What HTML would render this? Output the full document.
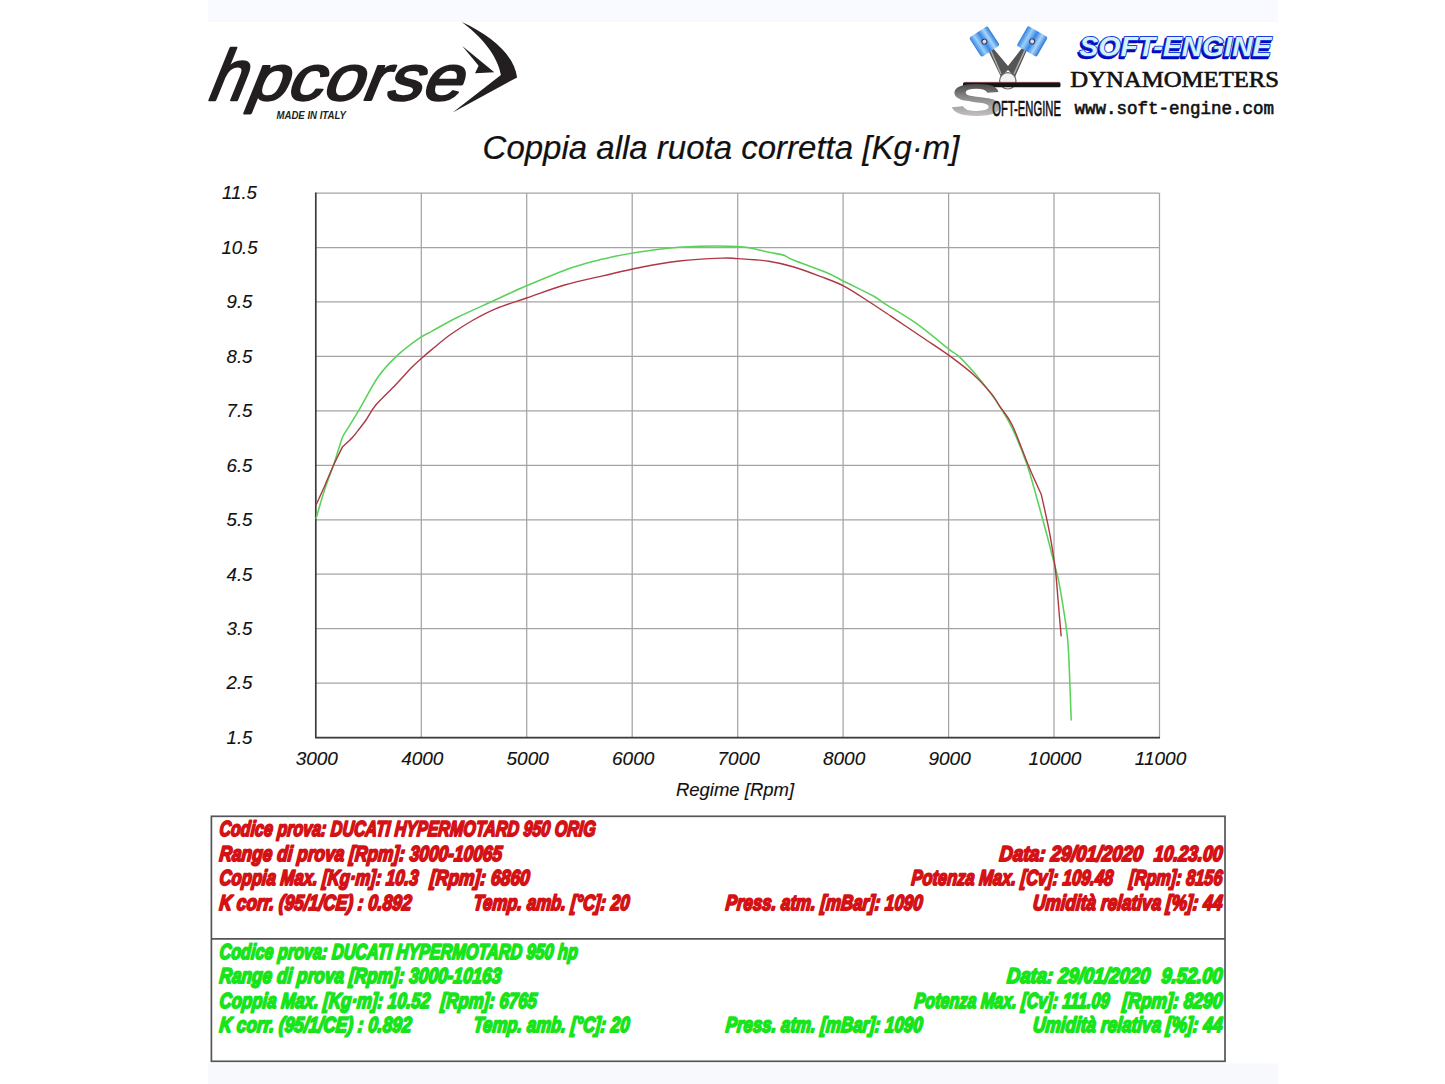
<!DOCTYPE html>
<html><head><meta charset="utf-8"><title>Coppia alla ruota corretta</title>
<style>
html,body{margin:0;padding:0;background:#fff;width:1445px;height:1084px;overflow:hidden}
svg{display:block;position:absolute;left:0;top:0}
</style></head><body>
<svg width="1445" height="1084" viewBox="0 0 1445 1084">
<rect x="208" y="0" width="1070" height="19.5" fill="#f8faff"/>
<rect x="208" y="19.5" width="1070" height="2.5" fill="#f9f9fa"/>
<rect x="208" y="1063.5" width="1070" height="20.5" fill="#f8f9fd"/>
<g stroke="#a4a4a4" stroke-width="1.25"><line x1="315.8" y1="737.6" x2="1159.5" y2="737.6"/><line x1="315.8" y1="683.1" x2="1159.5" y2="683.1"/><line x1="315.8" y1="628.7" x2="1159.5" y2="628.7"/><line x1="315.8" y1="574.2" x2="1159.5" y2="574.2"/><line x1="315.8" y1="519.8" x2="1159.5" y2="519.8"/><line x1="315.8" y1="465.3" x2="1159.5" y2="465.3"/><line x1="315.8" y1="410.8" x2="1159.5" y2="410.8"/><line x1="315.8" y1="356.4" x2="1159.5" y2="356.4"/><line x1="315.8" y1="301.9" x2="1159.5" y2="301.9"/><line x1="315.8" y1="247.5" x2="1159.5" y2="247.5"/><line x1="315.8" y1="193.0" x2="1159.5" y2="193.0"/><line x1="421.3" y1="193.0" x2="421.3" y2="737.6"/><line x1="526.7" y1="193.0" x2="526.7" y2="737.6"/><line x1="632.2" y1="193.0" x2="632.2" y2="737.6"/><line x1="737.7" y1="193.0" x2="737.7" y2="737.6"/><line x1="843.1" y1="193.0" x2="843.1" y2="737.6"/><line x1="948.6" y1="193.0" x2="948.6" y2="737.6"/><line x1="1054.0" y1="193.0" x2="1054.0" y2="737.6"/><line x1="1159.5" y1="193.0" x2="1159.5" y2="737.6"/></g>
<polyline points="315.8,192.5 315.8,737.6 1160.0,737.6" fill="none" stroke="#3c3c3c" stroke-width="1.7"/>
<path d="M315.9,519.0 C317.3,514.4 321.3,500.0 324.2,491.1 C327.1,482.2 330.4,474.2 333.3,465.7 C336.2,457.2 339.7,445.4 341.4,440.3 C343.1,435.2 343.1,436.1 343.5,435.2 C346.0,431.1 352.7,420.6 358.5,410.8 C364.3,401.0 372.1,385.5 378.4,376.5 C384.7,367.5 389.5,362.9 396.1,356.6 C402.8,350.3 412.3,343.1 418.3,338.9 C424.3,334.6 425.4,334.8 432.0,331.1 C438.6,327.5 447.9,322.0 458.1,317.0 C468.3,312.0 481.7,306.2 493.1,301.0 C504.5,295.8 513.4,291.4 526.6,285.8 C539.8,280.2 559.6,271.9 572.3,267.5 C585.0,263.1 592.6,261.5 602.7,259.1 C612.9,256.7 619.8,255.0 633.2,253.0 C646.7,251.0 666.0,248.2 683.4,247.1 C700.8,246.0 724.9,246.0 737.7,246.5 C750.5,247.0 752.2,248.8 760.0,250.3 C767.8,251.8 780.2,254.5 784.3,255.3 C785.9,256.1 786.8,257.3 793.9,260.2 C801.0,263.1 818.5,269.2 826.9,272.8 C835.3,276.4 836.5,277.6 844.3,281.5 C852.0,285.4 866.6,292.3 873.4,296.0 C880.2,299.7 877.9,299.3 885.0,303.8 C892.1,308.3 905.3,315.6 916.0,323.2 C926.7,330.8 941.9,343.8 949.0,349.3 C956.1,354.8 954.4,352.2 958.6,356.1 C962.8,360.0 968.9,366.6 974.1,372.6 C979.3,378.6 985.4,386.5 989.6,392.0 C993.8,397.5 995.6,399.7 999.4,405.8 C1003.2,411.9 1007.7,418.7 1012.3,428.4 C1016.9,438.1 1022.5,451.6 1026.8,464.0 C1031.1,476.4 1034.6,490.3 1038.1,502.7 C1041.6,515.1 1045.1,527.9 1047.8,538.2 C1050.5,548.5 1052.7,557.2 1054.5,564.5 C1056.3,571.8 1057.3,573.9 1058.9,582.1 C1060.5,590.3 1062.7,604.0 1064.2,613.6 C1065.7,623.2 1066.8,630.2 1067.7,639.9 C1068.6,649.5 1068.8,658.1 1069.4,671.5 C1070.0,684.9 1070.9,712.3 1071.2,720.5" fill="none" stroke="#5ad25a" stroke-width="1.55" stroke-linejoin="round"/>
<path d="M315.9,505.3 C317.3,502.2 321.3,493.6 324.2,487.0 C327.1,480.4 330.2,472.4 333.3,465.7 C336.4,459.0 341.0,450.0 342.5,446.9 C344.2,445.3 349.8,440.4 352.6,437.3 C355.5,434.2 357.4,431.4 359.6,428.5 C361.8,425.6 363.3,423.9 366.0,420.0 C368.7,416.1 371.0,410.8 375.8,405.0 C380.6,399.2 389.0,391.6 395.0,385.4 C401.0,379.2 407.2,372.1 411.6,367.6 C416.0,363.1 418.2,361.2 421.6,358.2 C425.0,355.2 427.2,353.3 432.0,349.4 C436.8,345.4 443.6,339.4 450.5,334.5 C457.4,329.6 465.7,324.3 473.3,320.0 C480.9,315.7 487.2,312.3 496.1,308.6 C505.0,304.9 515.2,301.9 526.6,298.0 C538.0,294.1 551.9,288.7 564.6,285.0 C577.3,281.3 590.1,278.8 602.7,275.9 C615.3,273.0 627.2,270.0 640.0,267.5 C652.8,265.0 665.9,262.6 679.6,261.0 C693.3,259.4 712.5,258.5 722.2,258.1 C731.9,257.7 730.0,258.1 737.8,258.6 C745.6,259.1 759.4,259.8 768.8,261.2 C778.1,262.6 785.2,264.4 793.9,267.0 C802.6,269.6 812.7,273.5 821.1,276.7 C829.5,279.9 836.2,282.1 844.3,286.3 C852.4,290.5 861.8,297.0 869.5,302.0 C877.2,307.0 882.1,310.3 890.8,316.1 C899.5,321.9 912.1,330.4 921.8,337.0 C931.5,343.6 940.3,349.0 949.0,355.4 C957.7,361.8 967.0,368.8 974.1,375.2 C981.2,381.6 987.4,388.8 991.6,393.9 C995.8,399.0 996.0,400.6 999.4,405.8 C1002.8,411.0 1007.5,415.2 1012.3,425.2 C1017.1,435.2 1023.6,454.0 1028.4,465.6 C1033.2,477.2 1039.2,489.8 1041.3,494.6 C1042.7,500.8 1047.2,520.4 1049.4,531.8 C1051.6,543.2 1053.3,555.0 1054.5,562.8 C1055.7,570.6 1055.6,570.7 1056.3,578.6 C1057.0,586.5 1058.1,600.5 1058.9,610.1 C1059.7,619.7 1060.8,632.0 1061.2,636.4" fill="none" stroke="#ad3844" stroke-width="1.4" stroke-linejoin="round"/>
<g font-family="Liberation Sans, Arial, sans-serif" font-style="italic" fill="#111" stroke="#111" stroke-width="0.12"><text x="239.5" y="743.9" text-anchor="middle" font-size="18.6">1.5</text><text x="239.5" y="689.4" text-anchor="middle" font-size="18.6">2.5</text><text x="239.5" y="635.0" text-anchor="middle" font-size="18.6">3.5</text><text x="239.5" y="580.5" text-anchor="middle" font-size="18.6">4.5</text><text x="239.5" y="526.1" text-anchor="middle" font-size="18.6">5.5</text><text x="239.5" y="471.6" text-anchor="middle" font-size="18.6">6.5</text><text x="239.5" y="417.1" text-anchor="middle" font-size="18.6">7.5</text><text x="239.5" y="362.7" text-anchor="middle" font-size="18.6">8.5</text><text x="239.5" y="308.2" text-anchor="middle" font-size="18.6">9.5</text><text x="239.5" y="253.8" text-anchor="middle" font-size="18.6">10.5</text><text x="239.5" y="199.3" text-anchor="middle" font-size="18.6">11.5</text><text x="316.8" y="765.0" text-anchor="middle" font-size="19">3000</text><text x="422.3" y="765.0" text-anchor="middle" font-size="19">4000</text><text x="527.7" y="765.0" text-anchor="middle" font-size="19">5000</text><text x="633.2" y="765.0" text-anchor="middle" font-size="19">6000</text><text x="738.7" y="765.0" text-anchor="middle" font-size="19">7000</text><text x="844.1" y="765.0" text-anchor="middle" font-size="19">8000</text><text x="949.6" y="765.0" text-anchor="middle" font-size="19">9000</text><text x="1055.0" y="765.0" text-anchor="middle" font-size="19">10000</text><text x="1160.5" y="765.0" text-anchor="middle" font-size="19">11000</text><text x="735" y="796" text-anchor="middle" font-size="18.5">Regime [Rpm]</text><text x="721" y="159.3" text-anchor="middle" font-size="33" stroke-width="0.2">Coppia alla ruota corretta [Kg·m]</text></g>
<rect x="211.4" y="816.3" width="1013.6" height="245" fill="none" stroke="#555" stroke-width="1.7"/>
<line x1="211.4" y1="938.8" x2="1225" y2="938.8" stroke="#555" stroke-width="1.7"/>
<g font-family="Liberation Sans, Arial, sans-serif" font-style="italic" font-weight="bold" font-size="21.5" stroke-width="1.9" stroke-linejoin="round" fill="#d41216" stroke="#d41216"><text transform="translate(219.0,836.0) skewX(-5)" textLength="376.2" lengthAdjust="spacingAndGlyphs">Codice prova: DUCATI HYPERMOTARD 950 ORIG</text><text transform="translate(219.0,860.6) skewX(-5)" textLength="282.5" lengthAdjust="spacingAndGlyphs">Range di prova [Rpm]: 3000-10065</text><text transform="translate(219.0,885.2) skewX(-5)" textLength="199.0" lengthAdjust="spacingAndGlyphs">Coppia Max. [Kg·m]: 10.3</text><text transform="translate(429.5,885.2) skewX(-5)" textLength="99.8" lengthAdjust="spacingAndGlyphs">[Rpm]: 6860</text><text transform="translate(219.0,909.8) skewX(-5)" textLength="192.0" lengthAdjust="spacingAndGlyphs">K corr. (95/1/CE) : 0.892</text><text transform="translate(473.0,909.8) skewX(-5)" textLength="156.0" lengthAdjust="spacingAndGlyphs">Temp. amb. [°C]: 20</text><text transform="translate(725.2,909.8) skewX(-5)" textLength="196.9" lengthAdjust="spacingAndGlyphs">Press. atm. [mBar]: 1090</text><text transform="translate(1032.5,909.8) skewX(-5)" textLength="189.5" lengthAdjust="spacingAndGlyphs">Umidità relativa [%]: 44</text><text transform="translate(999.1,860.6) skewX(-5)" textLength="143.3" lengthAdjust="spacingAndGlyphs">Data: 29/01/2020</text><text transform="translate(1153.5,860.6) skewX(-5)" textLength="68.5" lengthAdjust="spacingAndGlyphs">10.23.00</text><text transform="translate(911.0,885.2) skewX(-5)" textLength="201.8" lengthAdjust="spacingAndGlyphs">Potenza Max. [Cv]: 109.48</text><text transform="translate(1128.7,885.2) skewX(-5)" textLength="93.3" lengthAdjust="spacingAndGlyphs">[Rpm]: 8156</text></g>
<g font-family="Liberation Sans, Arial, sans-serif" font-style="italic" font-weight="bold" font-size="21.5" stroke-width="1.9" stroke-linejoin="round" fill="#18e41c" stroke="#18e41c"><text transform="translate(219.0,958.5) skewX(-5)" textLength="358.4" lengthAdjust="spacingAndGlyphs">Codice prova: DUCATI HYPERMOTARD 950 hp</text><text transform="translate(219.0,983.1) skewX(-5)" textLength="281.8" lengthAdjust="spacingAndGlyphs">Range di prova [Rpm]: 3000-10163</text><text transform="translate(219.0,1007.7) skewX(-5)" textLength="210.5" lengthAdjust="spacingAndGlyphs">Coppia Max. [Kg·m]: 10.52</text><text transform="translate(440.2,1007.7) skewX(-5)" textLength="96.2" lengthAdjust="spacingAndGlyphs">[Rpm]: 6765</text><text transform="translate(219.0,1032.3) skewX(-5)" textLength="192.0" lengthAdjust="spacingAndGlyphs">K corr. (95/1/CE) : 0.892</text><text transform="translate(473.0,1032.3) skewX(-5)" textLength="156.0" lengthAdjust="spacingAndGlyphs">Temp. amb. [°C]: 20</text><text transform="translate(725.2,1032.3) skewX(-5)" textLength="196.9" lengthAdjust="spacingAndGlyphs">Press. atm. [mBar]: 1090</text><text transform="translate(1032.5,1032.3) skewX(-5)" textLength="189.5" lengthAdjust="spacingAndGlyphs">Umidità relativa [%]: 44</text><text transform="translate(1006.6,983.1) skewX(-5)" textLength="143.2" lengthAdjust="spacingAndGlyphs">Data: 29/01/2020</text><text transform="translate(1161.0,983.1) skewX(-5)" textLength="61.0" lengthAdjust="spacingAndGlyphs">9.52.00</text><text transform="translate(914.0,1007.7) skewX(-5)" textLength="195.0" lengthAdjust="spacingAndGlyphs">Potenza Max. [Cv]: 111.09</text><text transform="translate(1122.0,1007.7) skewX(-5)" textLength="100.0" lengthAdjust="spacingAndGlyphs">[Rpm]: 8290</text></g>
<g transform="translate(205,100) skewX(-22)" font-family="Liberation Sans, Arial, sans-serif" font-size="64" fill="#231f20" stroke="#231f20" stroke-width="2.2" stroke-linejoin="round"><text transform="scale(1.02,1.12)">h</text><text x="39.9" transform="scale(1,1)" textLength="214" lengthAdjust="spacingAndGlyphs">pcorse</text></g>
<text x="276.5" y="119" font-family="Liberation Sans, Arial, sans-serif" font-weight="bold" font-style="italic" font-size="11" fill="#231f20" textLength="69.5" lengthAdjust="spacingAndGlyphs">MADE IN ITALY</text>
<path d="M461.8,22.1 C492,36 514,55 517.1,77.4 L452.7,112.4 L500.9,74.9 C498,60 488,42 461.8,22.1 Z" fill="#231f20"/>
<path d="M462.3,45.9 L494.3,72.3 L475,73.3 L478.6,65.7 Z" fill="#231f20"/>
<text x="1078" y="57.5" font-family="Liberation Sans, Arial, sans-serif" font-weight="bold" font-style="italic" font-size="28" fill="#0a0ab4" stroke="#0a0ab4" stroke-width="2.4" stroke-linejoin="round" textLength="192" lengthAdjust="spacingAndGlyphs">SOFT-ENGINE</text>
<text x="1079.5" y="56" font-family="Liberation Sans, Arial, sans-serif" font-weight="bold" font-style="italic" font-size="28" fill="#d4f2f6" stroke="#1a3ce0" stroke-width="1.8" stroke-linejoin="round" paint-order="stroke" textLength="192" lengthAdjust="spacingAndGlyphs">SOFT-ENGINE</text>
<text x="1070.3" y="86.6" font-family="Liberation Serif, Times New Roman, serif" font-size="23" fill="#111" stroke="#111" stroke-width="0.6" textLength="208.8" lengthAdjust="spacingAndGlyphs">DYNAMOMETERS</text>
<text x="1074.5" y="113.5" font-family="Liberation Mono, Courier New, monospace" font-size="17.5" fill="#111" stroke="#111" stroke-width="0.6" textLength="199.5" lengthAdjust="spacingAndGlyphs">www.soft-engine.com</text>
<defs>
<linearGradient id="pb" x1="0" y1="0" x2="1" y2="0">
<stop offset="0" stop-color="#2f7fe0"/><stop offset="0.25" stop-color="#9cd0f8"/><stop offset="0.5" stop-color="#3a86e6"/><stop offset="0.75" stop-color="#a8d6fa"/><stop offset="1" stop-color="#2b78d8"/></linearGradient>
<linearGradient id="rod" x1="0" y1="0" x2="1" y2="0">
<stop offset="0" stop-color="#333"/><stop offset="0.5" stop-color="#9a9a9a"/><stop offset="1" stop-color="#444"/></linearGradient>
<linearGradient id="sg" x1="0" y1="0" x2="0" y2="1">
<stop offset="0" stop-color="#1a1a1a"/><stop offset="0.45" stop-color="#8a8a8a"/><stop offset="1" stop-color="#e4dcdc"/></linearGradient>
</defs>
<path d="M988,50 L1001,77 L1008,70 L1015,77 L1027,50 L1022,48 L1008,66 L993,48 Z" fill="#555"/>
<path d="M990.5,50 L1001,74 M1025,50 L1014,74" stroke="#aaa" stroke-width="1.5" fill="none"/>
<g transform="translate(984.4,41.6) rotate(-33)"><rect x="-11" y="-11.5" width="22" height="23" rx="2" fill="url(#pb)"/><circle cx="0" cy="0" r="2.5" fill="#dde" stroke="#335" stroke-width="1"/></g>
<g transform="translate(1032.2,41.4) rotate(30)"><rect x="-11.5" y="-11.5" width="23" height="23" rx="2" fill="url(#pb)"/><circle cx="0" cy="0" r="2.5" fill="#dde" stroke="#335" stroke-width="1"/></g>
<circle cx="1007.8" cy="80.8" r="8.2" fill="#f2f2f2" stroke="#666" stroke-width="1.2"/>
<rect x="963" y="82.3" width="97.5" height="5" rx="1.5" fill="#151515"/>
<line x1="965" y1="82.3" x2="1060" y2="82.3" stroke="#a04050" stroke-width="0.6"/>
<text transform="translate(949.5,115.8) scale(1.75,1)" x="0" y="0" font-family="Liberation Sans, Arial, sans-serif" font-weight="bold" font-size="46" fill="url(#sg)">S</text>
<text x="992.3" y="115.5" font-family="Liberation Sans, Arial, sans-serif" font-size="22" fill="#111" stroke="#111" stroke-width="0.7" textLength="68.6" lengthAdjust="spacingAndGlyphs">OFT-ENGINE</text>
</svg>
</body></html>
